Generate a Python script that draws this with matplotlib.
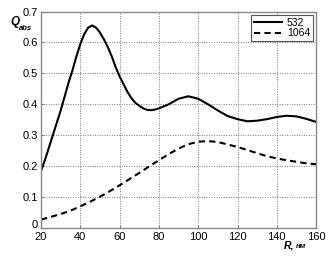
import matplotlib
matplotlib.use("Agg")
import matplotlib.pyplot as plt
import matplotlib.transforms as mtransforms

R_532 = [20, 22, 24, 26, 28, 30, 32, 34, 36, 38, 40, 42, 44, 46, 48, 50, 52, 54, 56, 58,
         60, 62, 64, 66, 68, 70, 72, 74, 76, 78, 80, 85, 90, 95, 100, 105, 110, 115, 120,
         125, 130, 135, 140, 145, 150, 155, 160]
Q_532 = [0.185, 0.22, 0.26, 0.30, 0.34, 0.38, 0.425, 0.47, 0.51, 0.555, 0.595, 0.627,
         0.648, 0.655, 0.648, 0.632, 0.61, 0.585, 0.555, 0.52, 0.49, 0.465, 0.44, 0.42,
         0.405, 0.395, 0.387, 0.382, 0.381, 0.383, 0.387, 0.40, 0.418, 0.426, 0.418, 0.40,
         0.38, 0.362, 0.352, 0.345, 0.347, 0.352, 0.359, 0.363, 0.361, 0.353, 0.343]

R_1064 = [20, 25, 30, 35, 40, 45, 50, 55, 60, 65, 70, 75, 80, 85, 90, 95, 100, 105, 110,
          115, 120, 125, 130, 135, 140, 145, 150, 155, 160]
Q_1064 = [0.027, 0.036, 0.045, 0.056, 0.07, 0.085, 0.101, 0.119, 0.138, 0.158, 0.178,
          0.199, 0.219, 0.239, 0.257, 0.271, 0.279, 0.281, 0.278, 0.27, 0.262, 0.252,
          0.242, 0.232, 0.225, 0.219, 0.214, 0.209, 0.206]

x_ticks = [20, 40, 60, 80, 100, 120, 140, 160]
y_ticks = [0, 0.1, 0.2, 0.3, 0.4, 0.5, 0.6, 0.7]
y_tick_labels = ["0", "0.1", "0.2", "0.3", "0.4", "0.5", "0.6", "0.7"]
labels = ["532", "1064"]

plt.rcParams['font.family'] = ['Liberation Sans', 'DejaVu Sans']

fig = plt.figure(figsize=(3.31, 2.57), dpi=100)
ax = fig.add_axes([0.124, 0.113, 0.831, 0.842])

ax.plot(R_532, Q_532, color='black', lw=1.5, ls='-', label=labels[0])
ax.plot(R_1064, Q_1064, color='black', lw=1.5, ls=(0, (3, 2)), label=labels[1])

ax.set_xlim(20, 160)
ax.set_ylim(0, 0.7)
ax.set_xticks(x_ticks)
ax.set_yticks(y_ticks)
ax.set_yticklabels(y_tick_labels)
ax.tick_params(axis='both', labelsize=8, direction='in', length=2, color='#888888', pad=2.5)
ax.tick_params(axis='x', pad=3)
ax.grid(True, color='#777777', ls=(0, (1, 1.5)), lw=0.7)
for s in ax.spines.values():
    s.set_color('#888888')
    s.set_linewidth(1.0)

# nudge the "0" label up slightly, as in the reference
zero_lbl = ax.get_yticklabels()[0]
zero_lbl.set_transform(zero_lbl.get_transform() +
                       mtransforms.ScaledTranslation(0, 3 / 72, fig.dpi_scale_trans))

leg = ax.legend(loc='upper right', fontsize=7.5, frameon=True, fancybox=False,
                edgecolor='#555555', framealpha=1, handlelength=2.6,
                borderaxespad=0.3, borderpad=0.3, labelspacing=0.05, handletextpad=0.5)
leg.get_frame().set_linewidth(0.8)

fig.text(0.030, 0.903, "Q", fontsize=8.5, fontweight='bold', style='italic')
fig.text(0.057, 0.885, "abs", fontsize=5.5, fontweight='bold', style='italic')
fig.text(0.856, 0.035, "R,", fontsize=7.5, fontweight='bold', style='italic')
fig.text(0.895, 0.035, "нм", fontsize=5.5, fontweight='bold', style='italic')

fig.savefig("out.png", dpi=100)
